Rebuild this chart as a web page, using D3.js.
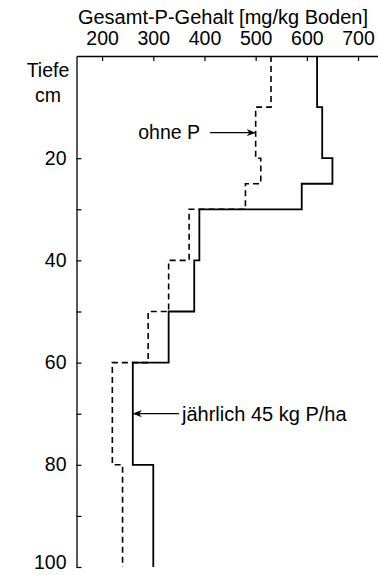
<!DOCTYPE html>
<html><head><meta charset="utf-8">
<script src="https://cdn.jsdelivr.net/npm/d3@7"></script>
<style>body{margin:0;background:#fff}svg text{font-family:"Liberation Sans",Arial,sans-serif;fill:#000}</style>
</head><body>
<script>
// Depth boundaries (cm) for each layer
const depthTop    = [0, 10, 20, 25, 30, 40, 50, 60, 80];
const depthBottom = [10, 20, 25, 30, 40, 50, 60, 80, 100];
// Gesamt-P-Gehalt [mg/kg Boden]
const withP    = [620, 630, 650, 590, 390, 380, 330, 260, 300]; // jährlich 45 kg P/ha
const withoutP = [530, 500, 510, 480, 370, 330, 290, 220, 240]; // ohne P
const xTicks = [200, 300, 400, 500, 600, 700];
const yTickVals = [20, 30, 40, 50, 60, 70, 80, 90, 100];
const yLabelVals = [20, 40, 60, 80, 100];

const W = 378, H = 575;
const svg = d3.select("body").append("svg").attr("width", W).attr("height", H);
const x = d3.scaleLinear().domain([150, 739]).range([76.5, 378]);
const y = d3.scaleLinear().domain([0, 100]).range([56, 567]);

// top axis
const xAxis = d3.axisTop(x).tickValues(xTicks).tickSize(-5).tickPadding(11).tickSizeOuter(0);
const gx = svg.append("g").attr("transform", `translate(0,${y(0)})`).call(xAxis);
gx.select(".domain").attr("stroke", "#000").attr("stroke-width", 1.3);
gx.selectAll(".tick line").attr("stroke", "#000").attr("stroke-width", 1.2);
gx.selectAll(".tick text").attr("font-size", 19.5).attr("font-family", "Liberation Sans, Arial, sans-serif");

// left axis
const yAxis = d3.axisLeft(y).tickValues(yTickVals).tickSize(-5).tickPadding(10).tickSizeOuter(0)
  .tickFormat(d => yLabelVals.includes(d) ? d : "");
const gy = svg.append("g").attr("transform", `translate(${x(150)},0)`).call(yAxis);
gy.select(".domain").attr("stroke", "#000").attr("stroke-width", 1.3);
gy.selectAll(".tick line").attr("stroke", "#000").attr("stroke-width", 1.2);
gy.selectAll(".tick text").attr("font-size", 19.5).attr("dy", d => d === 100 ? "0.1em" : "0.3em")
  .attr("font-family", "Liberation Sans, Arial, sans-serif");

// titles
svg.append("text").attr("x", 223).attr("y", 24).attr("text-anchor", "middle")
  .attr("font-size", 20).text("Gesamt-P-Gehalt [mg/kg Boden]");
svg.append("text").attr("x", 48).attr("y", 77).attr("text-anchor", "middle").attr("font-size", 19.5).text("Tiefe");
svg.append("text").attr("x", 48).attr("y", 102).attr("text-anchor", "middle").attr("font-size", 19.5).text("cm");

// step profiles
function stepPoints(vals) {
  const pts = [];
  vals.forEach((v, i) => { pts.push([x(v), y(depthTop[i])]); pts.push([x(v), y(depthBottom[i])]); });
  return pts;
}
const line = d3.line();
svg.append("path").attr("d", line(stepPoints(withoutP))).attr("fill", "none")
  .attr("stroke", "#000").attr("stroke-width", 1.6).attr("stroke-dasharray", "6,4");
svg.append("path").attr("d", line(stepPoints(withP))).attr("fill", "none")
  .attr("stroke", "#000").attr("stroke-width", 1.8);

// annotations
const defs = svg.append("defs");
defs.append("marker").attr("id", "arr").attr("viewBox", "0 0 10 10").attr("refX", 10).attr("refY", 5)
  .attr("markerWidth", 9).attr("markerHeight", 9).attr("markerUnits", "userSpaceOnUse").attr("orient", "auto")
  .append("path").attr("d", "M0,1 L10,5 L0,9 L3,5 Z").attr("fill", "#000");

svg.append("line").attr("x1", 210).attr("x2", x(withoutP[1])).attr("y1", y(15)).attr("y2", y(15))
  .attr("stroke", "#000").attr("stroke-width", 1.2).attr("marker-end", "url(#arr)");
svg.append("text").attr("x", 200).attr("y", y(15) + 6.5).attr("text-anchor", "end").attr("font-size", 19.5).text("ohne P");

svg.append("line").attr("x1", 179).attr("x2", x(withP[7])).attr("y1", y(70)).attr("y2", y(70))
  .attr("stroke", "#000").attr("stroke-width", 1.2).attr("marker-end", "url(#arr)");
svg.append("text").attr("x", 182).attr("y", y(70) + 7).attr("font-size", 20).text("jährlich 45 kg P/ha");
</script>
</body></html>
